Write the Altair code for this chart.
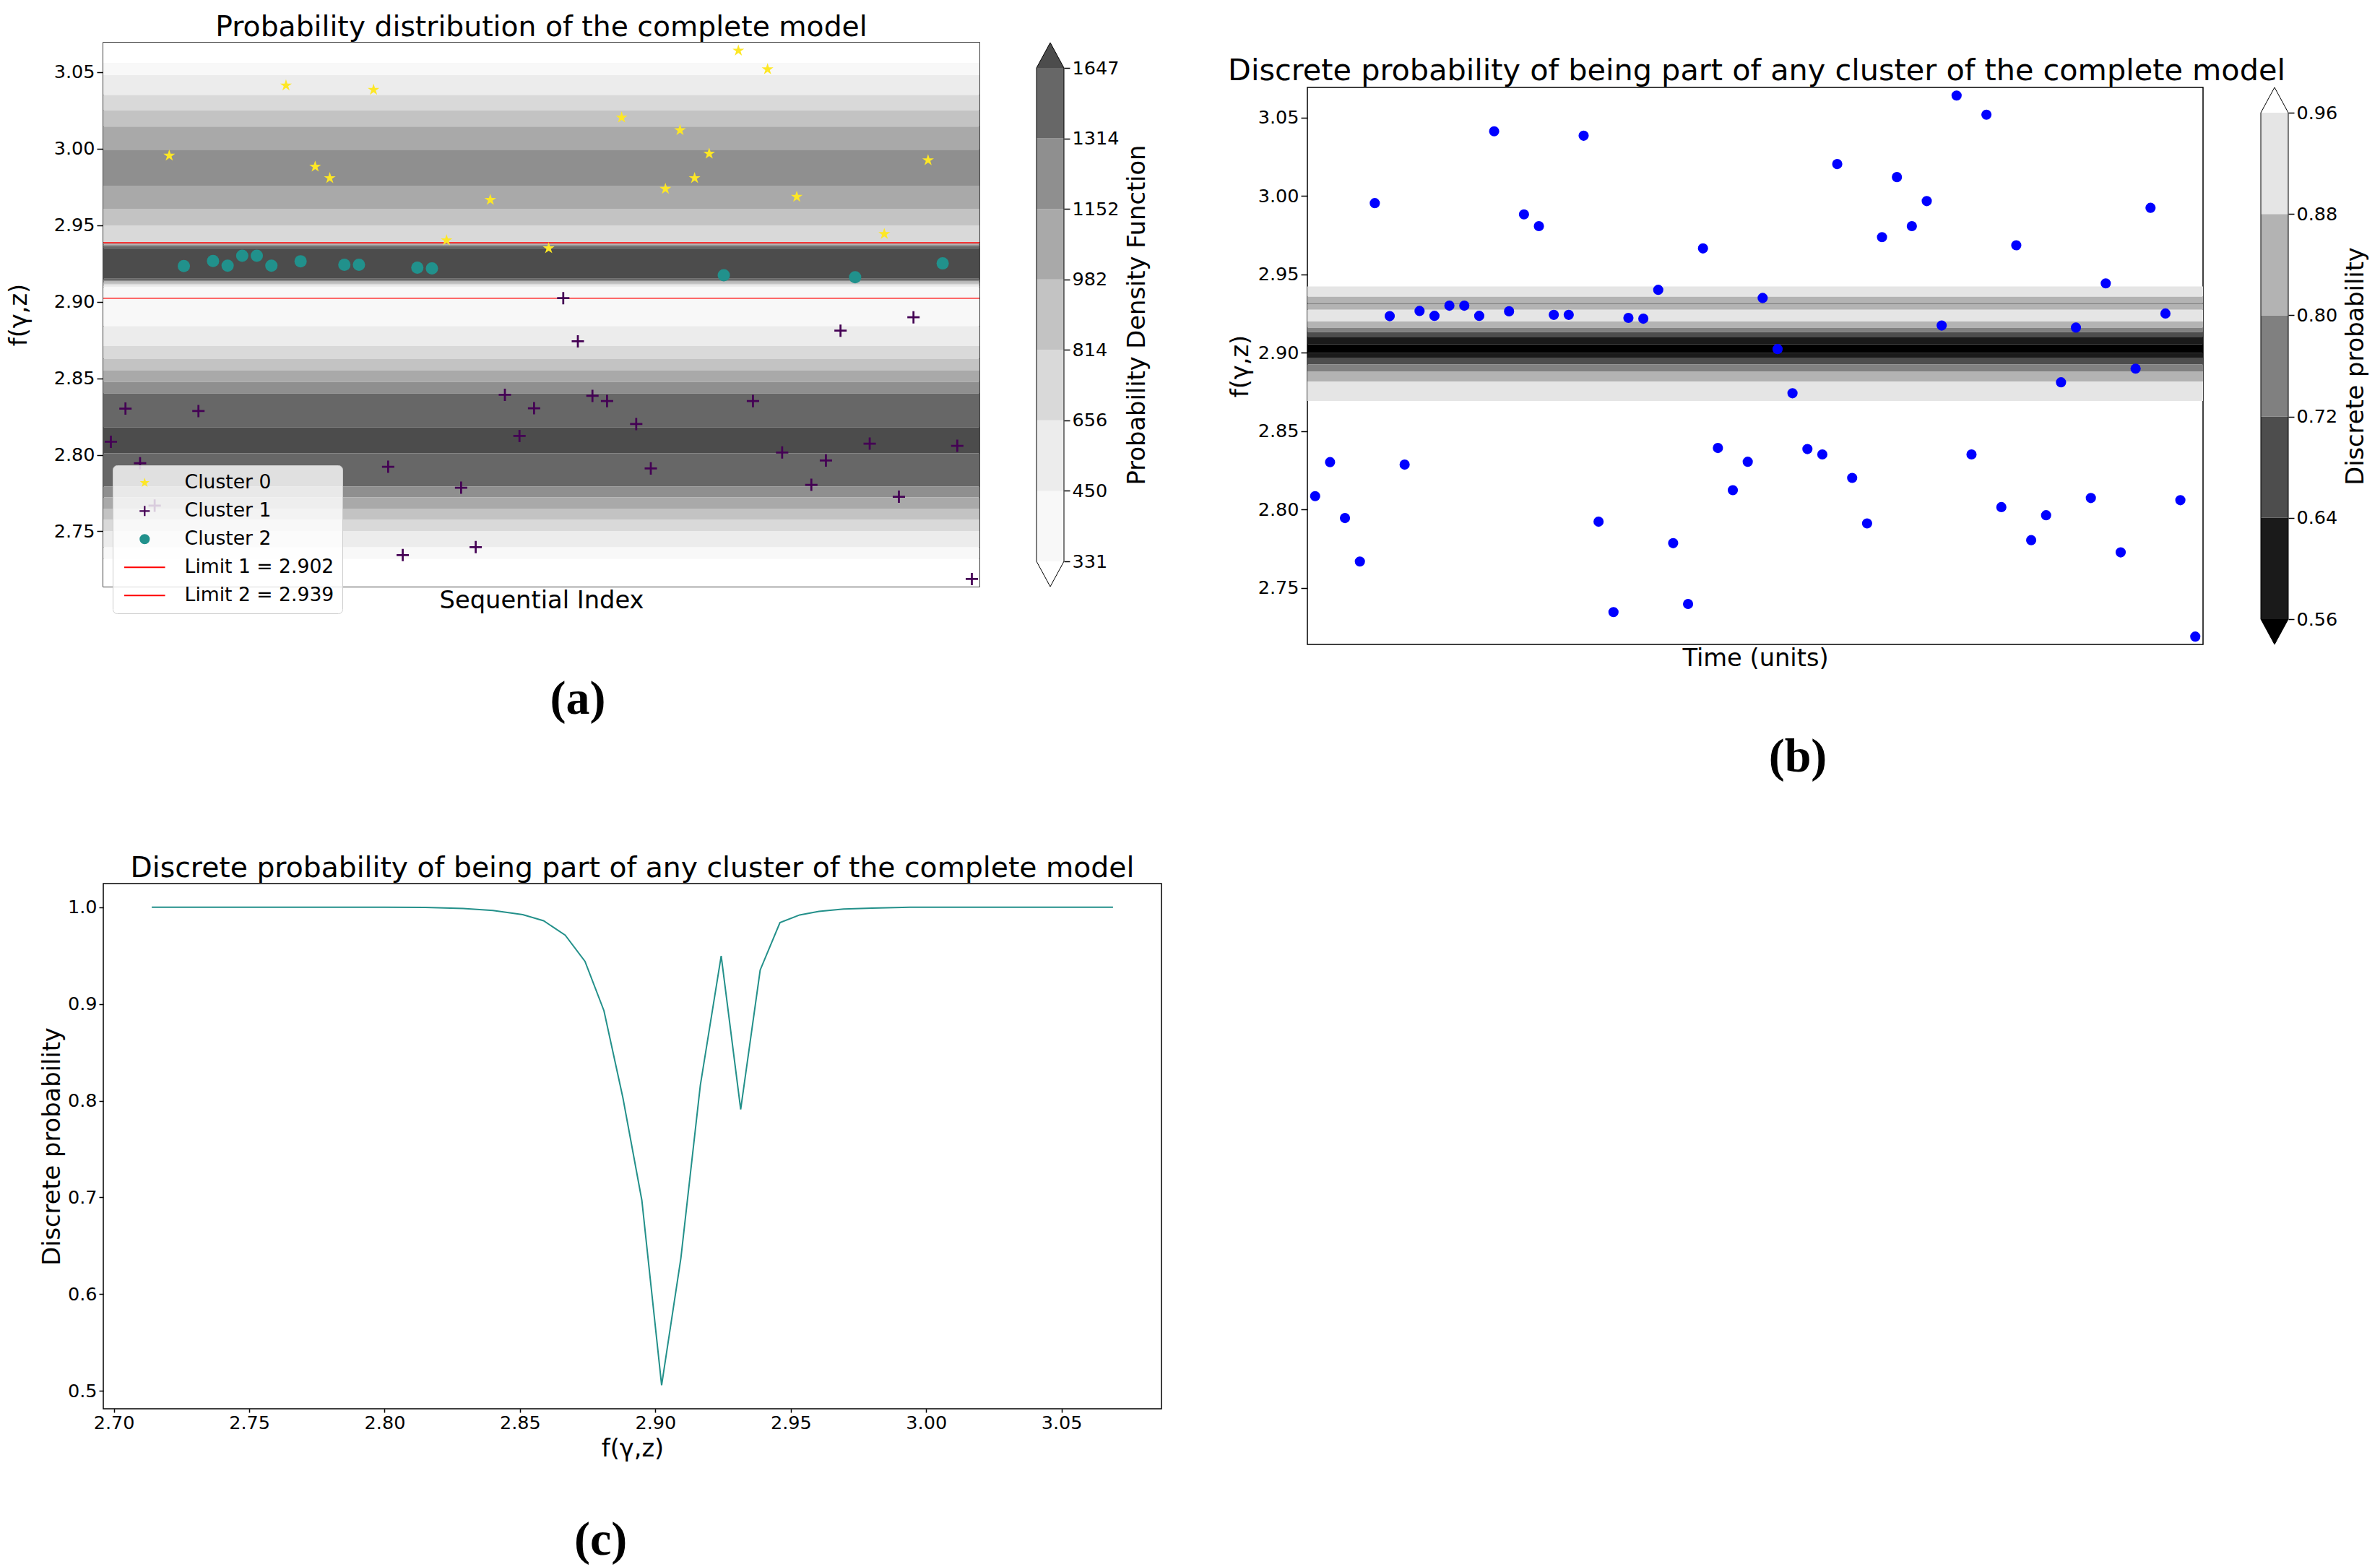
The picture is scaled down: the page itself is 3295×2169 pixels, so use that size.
import altair as alt
import pandas as pd

FONT = "DejaVu Sans"

# ---------------- data ----------------
SEQ_INDEX = list(range(60))
F_VALUES = [2.8085, 2.8302, 2.7945, 2.7668, 2.9954, 2.9233, 2.8286, 2.9266, 2.9235, 2.9300,
            2.9300, 2.9235, 3.0412, 2.9264, 2.9882, 2.9807, 2.9241, 2.9241, 3.0384, 2.7922,
            2.7345, 2.9222, 2.9217, 2.9401, 2.7785, 2.7397, 2.9665, 2.8392, 2.8123, 2.8304,
            2.9349, 2.9023, 2.8741, 2.8385, 2.8351, 3.0203, 2.8201, 2.7911, 2.9737, 3.0120,
            2.9807, 2.9967, 2.9173, 3.0640, 2.8351, 3.0518, 2.8015, 2.9685, 2.7804, 2.7963,
            2.8811, 2.9160, 2.8073, 2.9442, 2.7726, 2.8898, 2.9924, 2.9250, 2.8059, 2.7189]
CLUSTER_ID = [1, 1, 1, 1, 0, 2, 1, 2, 2, 2,
              2, 2, 0, 2, 0, 0, 2, 2, 0, 1,
              1, 2, 2, 0, 1, 1, 0, 1, 1, 1,
              0, 1, 1, 1, 1, 0, 1, 1, 0, 0,
              0, 0, 2, 0, 1, 0, 1, 0, 1, 1,
              1, 2, 1, 0, 1, 1, 0, 2, 1, 1]
CLUSTER_NAMES = ["Cluster 0", "Cluster 1", "Cluster 2"]
CLUSTER_COLORS = ["#fde725", "#440154", "#21918c"]
LIMIT_NAMES = ["Limit 1 = 2.902", "Limit 2 = 2.939"]
LIMIT_VALUES = [2.9022, 2.9385]
LIMIT_WIDTHS = [1.2, 1.6]

# panel (a) density bands: lower, upper, level
A_BAND_LO = [3.0560, 3.0480, 3.0350, 3.0250, 3.0144, 2.9993, 2.9758, 2.9607, 2.9498, 2.9387,
             2.9380, 2.9373, 2.9364, 2.9348, 2.9150, 2.9140, 2.9132, 2.9124, 2.9115, 2.9105,
             2.9095, 2.8840, 2.8710, 2.8628, 2.8550, 2.8476, 2.8400, 2.8178, 2.8010, 2.7792,
             2.7722, 2.7649, 2.7578, 2.7502, 2.7396, 2.7320, 2.7139]
A_BAND_HI = [3.0692, 3.0560, 3.0480, 3.0350, 3.0250, 3.0144, 2.9993, 2.9758, 2.9607, 2.9498,
             2.9387, 2.9380, 2.9373, 2.9364, 2.9348, 2.9150, 2.9140, 2.9132, 2.9124, 2.9115,
             2.9105, 2.9095, 2.8840, 2.8710, 2.8628, 2.8550, 2.8476, 2.8400, 2.8178, 2.8010,
             2.7792, 2.7722, 2.7649, 2.7578, 2.7502, 2.7396, 2.7320]
A_BAND_LEVEL = [0, 1, 2, 3, 4, 5, 6, 5, 4, 3,
                4, 5, 6, 7, 8, 7, 6, 5, 4, 3,
                2, 1, 2, 3, 4, 5, 6, 7, 8, 7,
                6, 5, 4, 3, 2, 1, 0]
A_LEVEL_COLORS = ["#ffffff", "#f8f8f8", "#ececec", "#d9d9d9", "#c3c3c3",
                  "#a9a9a9", "#8f8f8f", "#676767", "#4c4c4c"]
A_CBAR_LABELS = ["331", "450", "656", "814", "982", "1152", "1314", "1647"]

# panel (b) probability bands: lower, upper, level
B_BAND_LO = [2.9357, 2.9316, 2.9310, 2.9274, 2.9199, 2.9159, 2.9131, 2.9101, 2.9054, 2.8997,
             2.8969, 2.8925, 2.8881, 2.8816, 2.8692]
B_BAND_HI = [2.9422, 2.9357, 2.9316, 2.9310, 2.9274, 2.9199, 2.9159, 2.9131, 2.9101, 2.9054,
             2.8997, 2.8969, 2.8925, 2.8881, 2.8816]
B_BAND_LEVEL = [5, 4, 3, 4, 5, 4, 3, 2, 1, 0,
                1, 2, 3, 4, 5]
B_LEVEL_COLORS = ["#000000", "#1a1a1a", "#4d4d4d", "#808080", "#b3b3b3", "#e5e5e5", "#ffffff"]
B_CBAR_LABELS = ["0.56", "0.64", "0.72", "0.80", "0.88", "0.96"]

# panel (c) curve
C_X = [2.714, 2.760, 2.800, 2.815, 2.829, 2.840, 2.851, 2.8587, 2.8667, 2.874,
       2.881, 2.888, 2.895, 2.9023, 2.9094, 2.9166, 2.9243, 2.9315, 2.9387, 2.946,
       2.9533, 2.9604, 2.9695, 2.980, 2.994, 3.030, 3.069]
C_P = [1.0, 1.0, 1.0, 0.9998, 0.9987, 0.9966, 0.9923, 0.986, 0.971, 0.944,
       0.893, 0.803, 0.697, 0.506, 0.637, 0.816, 0.9496, 0.791, 0.935, 0.984,
       0.992, 0.9957, 0.998, 0.999, 1.0, 1.0, 1.0]

Y_DOMAIN = [2.7139, 3.0692]
X_DOMAIN = [-0.52, 59.52]
Y_TICKS = [2.75, 2.80, 2.85, 2.90, 2.95, 3.00, 3.05]
C_X_DOMAIN = [2.6961, 3.0869]
C_Y_DOMAIN = [0.4816, 1.0244]
C_X_TICKS = [2.70, 2.75, 2.80, 2.85, 2.90, 2.95, 3.00, 3.05]
C_Y_TICKS = [0.5, 0.6, 0.7, 0.8, 0.9, 1.0]

# ---------------- styles ----------------
STAR_PATH = ("M0,-1L0.2245,-0.309L0.951,-0.309L0.3633,0.118L0.5878,0.809L0,0.382"
             "L-0.5878,0.809L-0.3633,0.118L-0.951,-0.309L-0.2245,-0.309Z")
PLUS_PATH = ("M-1,-0.16L-0.16,-0.16L-0.16,-1L0.16,-1L0.16,-0.16L1,-0.16L1,0.16"
             "L0.16,0.16L0.16,1L-0.16,1L-0.16,0.16L-1,0.16Z")
LINE_PATH = "M-4,-0.15L4,-0.15L4,0.15L-4,0.15Z"

A_W, A_H = 1213, 753
B_W, B_H = 1240, 771
C_W, C_H = 1465, 727
CB_W = 38
TITLE_TEXT_BC = "Discrete probability of being part of any cluster of the complete model"


def bands_df(lo, hi, levels, colors):
    return pd.DataFrame({"lo": lo, "hi": hi, "col": [colors[l] for l in levels],
                         "x0": [X_DOMAIN[0]] * len(lo), "x1": [X_DOMAIN[1]] * len(lo)})


def f_axis(title_pad):
    return alt.Axis(title="f(γ,z)", values=Y_TICKS, format=".2f", titlePadding=title_pad,
                    tickSize=9, labelPadding=3)


def panel_a():
    xsc = alt.Scale(domain=X_DOMAIN, nice=False, zero=False)
    ysc = alt.Scale(domain=Y_DOMAIN, nice=False, zero=False)
    xax = alt.Axis(title="Sequential Index", ticks=False, labels=False, titlePadding=2)
    yax = f_axis(31)
    band = alt.Chart(bands_df(A_BAND_LO, A_BAND_HI, A_BAND_LEVEL, A_LEVEL_COLORS)).mark_rect(
        strokeWidth=0).encode(
        x=alt.X("x0:Q", scale=xsc, axis=xax), x2="x1:Q",
        y=alt.Y("lo:Q", scale=ysc, axis=yax), y2="hi:Q",
        fill=alt.Fill("col:N", scale=None),
    )
    lim = pd.DataFrame({"y": LIMIT_VALUES, "w": LIMIT_WIDTHS})
    rule = alt.Chart(lim).mark_rule(color="#ff0000").encode(
        y=alt.Y("y:Q", axis=yax), strokeWidth=alt.StrokeWidth("w:Q", scale=None))
    pts = pd.DataFrame({"idx": SEQ_INDEX, "f": F_VALUES,
                        "series": [CLUSTER_NAMES[c] for c in CLUSTER_ID]})
    dom = CLUSTER_NAMES + LIMIT_NAMES
    csc = alt.Scale(domain=dom, range=CLUSTER_COLORS + ["#ff0000", "#ff0000"])
    ssc = alt.Scale(domain=dom, range=[STAR_PATH, PLUS_PATH, "circle", LINE_PATH, LINE_PATH])
    leg = alt.Legend(title=None, orient="none", legendX=13, legendY=585,
                     fillColor="rgba(255,255,255,0.8)", strokeColor="#cccccc",
                     cornerRadius=6, padding=11, labelFontSize=26.6, labelFont=FONT,
                     labelColor="black", labelLimit=500, symbolSize=200, symbolStrokeWidth=0,
                     symbolOffset=20, labelOffset=42, rowPadding=12)
    p = alt.Chart(pts).mark_point(filled=True, size=290, strokeWidth=0, opacity=1).encode(
        x=alt.X("idx:Q", axis=xax),
        y=alt.Y("f:Q", axis=yax),
        color=alt.Color("series:N", scale=csc, legend=leg),
        shape=alt.Shape("series:N", scale=ssc, legend=leg),
    )
    return alt.layer(band, rule, p).properties(
        width=A_W, height=A_H,
        title=alt.TitleParams("Probability distribution of the complete model",
                              anchor="middle", frame="group", offset=1))


def panel_b():
    xsc = alt.Scale(domain=X_DOMAIN, nice=False, zero=False)
    ysc = alt.Scale(domain=Y_DOMAIN, nice=False, zero=False)
    xax = alt.Axis(title="Time (units)", ticks=False, labels=False, titlePadding=2)
    yax = f_axis(7)
    band = alt.Chart(bands_df(B_BAND_LO, B_BAND_HI, B_BAND_LEVEL, B_LEVEL_COLORS)).mark_rect(
        strokeWidth=0).encode(
        x=alt.X("x0:Q", scale=xsc, axis=xax), x2="x1:Q",
        y=alt.Y("lo:Q", scale=ysc, axis=yax), y2="hi:Q",
        fill=alt.Fill("col:N", scale=None),
    )
    pts = pd.DataFrame({"idx": SEQ_INDEX, "f": F_VALUES})
    p = alt.Chart(pts).mark_point(filled=True, size=200, strokeWidth=0, opacity=1,
                                  color="#0000ff", shape="circle").encode(
        x=alt.X("idx:Q", axis=xax), y=alt.Y("f:Q", axis=yax))
    return alt.layer(band, p).properties(width=B_W, height=B_H)


def colorbar(inner, over_col, under_col, labels, title, height):
    n = len(inner)
    tri_h = 35.0
    ext = tri_h / ((height - 2 * tri_h) / n)
    k = tri_h / (CB_W / 2)
    up = f"M-1,0L0,-{k:.3f}L1,0"
    down = f"M-1,0L0,{k:.3f}L1,0"
    df = pd.DataFrame({"lo": list(range(n)), "hi": list(range(1, n + 1)), "col": inner,
                       "x0": [0] * n, "x1": [1] * n})
    ysc = alt.Scale(domain=[-ext, n + ext], nice=False, zero=False)
    xsc = alt.Scale(domain=[0, 1], nice=False, zero=False)
    expr = "[" + ",".join(f"'{t}'" for t in labels) + "][datum.value]"
    ax = alt.Axis(orient="right", values=list(range(n + 1)), labelExpr=expr, title=title,
                  titleAngle=270, titleBaseline="top", tickSize=8, labelPadding=3,
                  titlePadding=9)
    bins = alt.Chart(df).mark_rect(strokeWidth=0).encode(
        x=alt.X("x0:Q", scale=xsc, axis=None), x2="x1:Q",
        y=alt.Y("lo:Q", scale=ysc, axis=ax), y2="hi:Q",
        fill=alt.Fill("col:N", scale=None),
    )
    tri = pd.DataFrame({"pos": [n, 0], "col": [over_col, under_col], "shp": [up, down],
                        "xc": [0.5, 0.5]})
    tris = alt.Chart(tri).mark_point(filled=True, size=CB_W ** 2, stroke="black",
                                     strokeWidth=1, opacity=1).encode(
        x=alt.X("xc:Q", axis=None),
        y=alt.Y("pos:Q", axis=ax),
        fill=alt.Fill("col:N", scale=None),
        shape=alt.Shape("shp:N", scale=None),
    )
    edf = pd.DataFrame({"e": [0, 1], "y0": [0, 0], "y1": [n, n]})
    edges = alt.Chart(edf).mark_rule(color="black", strokeWidth=1).encode(
        x=alt.X("e:Q", axis=None), y=alt.Y("y0:Q", axis=ax), y2="y1:Q")
    return alt.layer(bins, tris, edges).properties(
        width=CB_W, height=height, view=alt.ViewBackground(strokeWidth=0))


def panel_c():
    curve = pd.DataFrame({"x": C_X, "p": C_P})
    return alt.Chart(curve).mark_line(color="#23908a", strokeWidth=2).encode(
        x=alt.X("x:Q", scale=alt.Scale(domain=C_X_DOMAIN, nice=False, zero=False),
                axis=alt.Axis(values=C_X_TICKS, format=".2f", title="f(γ,z)", titlePadding=6,
                              tickSize=5, labelPadding=2)),
        y=alt.Y("p:Q", scale=alt.Scale(domain=C_Y_DOMAIN, nice=False, zero=False),
                axis=alt.Axis(values=C_Y_TICKS, format=".1f", title="Discrete probability",
                              titlePadding=4, tickSize=6, labelPadding=3)),
    ).properties(
        width=C_W, height=C_H,
        title=alt.TitleParams(TITLE_TEXT_BC, anchor="middle", frame="group", offset=1))


def caption(t, off):
    return alt.TitleParams(t, orient="bottom", anchor="middle", font="Liberation Serif",
                           fontSize=66, fontWeight="bold", offset=off)


spacer = alt.Chart(pd.DataFrame({"v": [0]})).mark_rect(opacity=0).encode(
    x=alt.value(0), x2=alt.value(1), y=alt.value(0), y2=alt.value(1)
).properties(width=1, height=18, view=alt.ViewBackground(strokeWidth=0))

row_a = alt.hconcat(panel_a(),
                    colorbar(A_LEVEL_COLORS[1:8], A_LEVEL_COLORS[8], "#ffffff",
                             A_CBAR_LABELS, "Probability Density Function", A_H),
                    spacing=75)
group_a = alt.vconcat(row_a, title=caption("(a)", 88))

row_b = alt.hconcat(panel_b(),
                    colorbar(B_LEVEL_COLORS[1:6], "#ffffff", "#000000",
                             B_CBAR_LABELS, "Discrete probability", B_H),
                    spacing=77,
                    title=alt.TitleParams(TITLE_TEXT_BC, anchor="middle", offset=0, dx=-57,
                                          fontSize=41.4))
group_b = alt.vconcat(spacer, row_b, spacing=0, title=caption("(b)", 88))

top = alt.hconcat(group_a, group_b, spacing=107)
group_c = alt.vconcat(panel_c(), title=caption("(c)", 77))

chart = alt.vconcat(top, group_c, spacing=99).properties(
    padding={"left": 0, "top": 9, "right": 5, "bottom": 5}
).configure(font=FONT).configure_axis(
    labelFont=FONT, titleFont=FONT, labelFontSize=25.5, titleFontSize=33.7,
    labelColor="black", titleColor="black", tickColor="black", domain=False, grid=False,
    titleFontWeight="normal", tickSize=10, tickWidth=1.5, labelPadding=5
).configure_title(
    font=FONT, fontSize=39.3, fontWeight="normal", color="black"
).configure_view(stroke="black", strokeWidth=1.5)

chart.save("out.html", embed_options={"renderer": "svg", "actions": False})
